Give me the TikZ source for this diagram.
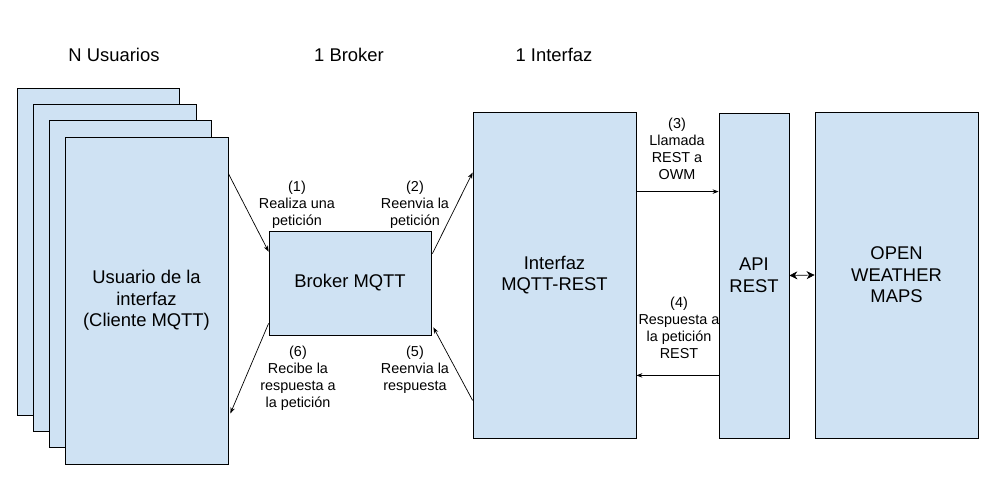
\documentclass[tikz,border=0pt]{standalone}
\usepackage{fontspec}
\setmainfont{Liberation Sans}
\usetikzlibrary{calc,arrows.meta}
\definecolor{boxfill}{HTML}{CFE2F3}
\tikzset{
  box/.style={draw=black, fill=boxfill, line width=0.8pt, inner sep=0pt, align=center,
    font=\fontsize{18.4}{21.5}\selectfont},
  lbl/.style={align=center, inner sep=0pt, font=\fontsize{14.4}{17}\selectfont},
  head/.style={inner sep=0pt, font=\fontsize{18.4}{21}\selectfont},
  conn/.style={line width=0.7pt, -{Stealth[length=6pt,width=4.5pt]}},
  dconn/.style={line width=0.7pt, {Stealth[length=8pt,width=8pt]}-{Stealth[length=8pt,width=8pt]}}
}
\begin{document}
\begin{tikzpicture}[x=1pt,y=-1pt]
\useasboundingbox (0,0) rectangle (994,498);
% headers
\node[head] (h1) at (114,55) {N Usuarios};
\node[head] (h2) at (349,55) {1 Broker};
\node[head] (h3) at (554,55) {1 Interfaz};
% stacked users
\node[box, minimum width=162, minimum height=327] (u1) at (98,251.5) {};
\node[box, minimum width=163, minimum height=327] (u2) at (114.5,267.5) {};
\node[box, minimum width=162, minimum height=327] (u3) at (130,283.5) {};
\node[box, minimum width=163, minimum height=327] (u4) at (146.5,300.5) {Usuario de la\\interfaz\\(Cliente MQTT)};
% broker
\node[box, minimum width=162, minimum height=104] (br) at (350,283) {Broker MQTT};
% interfaz
\node[box, minimum width=163, minimum height=326] (in) at (554.5,275) {Interfaz\\MQTT-REST};
% api
\node[box, minimum width=70, minimum height=325] (api) at (754,275.5) {API\\REST};
% owm
\node[box, minimum width=163, minimum height=326] (owm) at (896.5,275) {OPEN\\WEATHER\\MAPS};
% labels
\node[lbl] (l1) at (297,205) {(1)\\Realiza una\\petición};
\node[lbl] (l2) at (415,205) {(2)\\Reenvia la\\petición};
\node[lbl] (l6) at (298,378.5) {(6)\\Recibe la\\respuesta a\\la petición};
\node[lbl] (l5) at (415,370) {(5)\\Reenvia la\\respuesta};
\node[lbl] (l3) at (677,148.5) {(3)\\Llamada\\REST a\\OWM};
\node[lbl] (l4) at (679,327.5) {(4)\\Respuesta a\\la petición\\REST};
% connectors
\coordinate (a1s) at ($(u4.north east)+(0,37)$);
\coordinate (a1e) at ($(br.north west)+(0,21)$);
\draw[conn] (a1s) -- (a1e);
\coordinate (a6s) at ($(br.south west)+(0,-12)$);
\coordinate (a6e) at ($(u4.south east)+(2,-51)$);
\draw[conn] (a6s) -- (a6e);
\coordinate (a2s) at ($(br.north east)+(1,23)$);
\coordinate (a2e) at ($(in.north west)+(0,61)$);
\draw[conn] (a2s) -- (a2e);
\coordinate (a5s) at ($(in.south west)+(0,-38)$);
\coordinate (a5e) at ($(br.south east)+(2,-8)$);
\draw[conn] (a5s) -- (a5e);
\coordinate (a3s) at ($(in.north east)+(0,80)$);
\draw[conn] (a3s) -- (a3s -| api.west);
\coordinate (a4s) at ($(api.south west)+(0,-63)$);
\draw[conn] (a4s) -- (a4s -| in.east);
\draw[dconn] (api.east) -- (owm.west);
\end{tikzpicture}
\end{document}
